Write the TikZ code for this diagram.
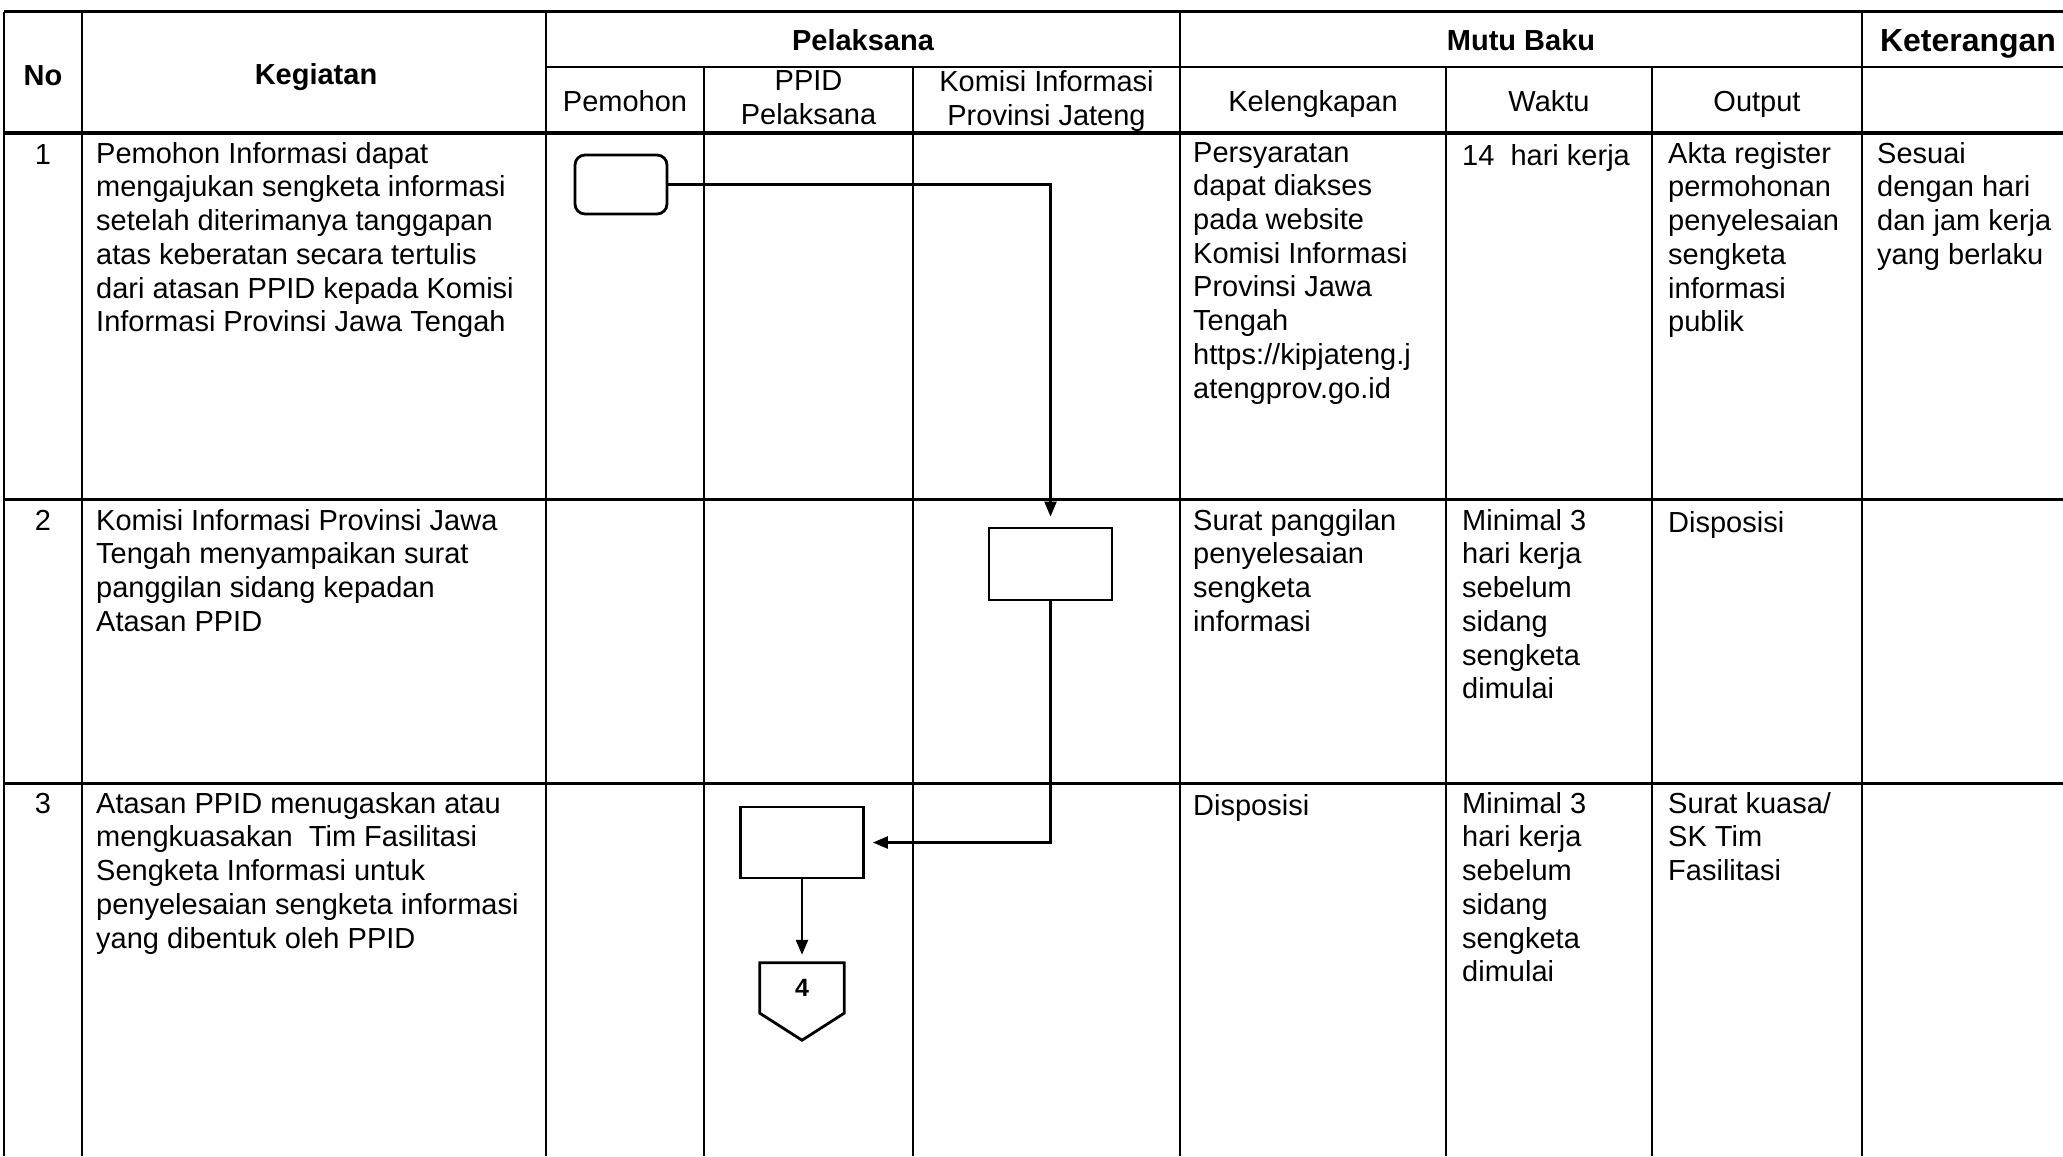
\documentclass[tikz,border=0pt]{standalone}
\usepackage{fontspec}
\setmainfont{Liberation Sans}
\usetikzlibrary{arrows.meta,calc}
\newcommand\cellfont{\fontsize{29}{33.7}\selectfont}
\newcommand\hdfont{\fontsize{29}{33.7}\selectfont\bfseries}
\newcommand\ketfont{\fontsize{32}{36.8}\selectfont\bfseries}
\begin{document}
\begin{tikzpicture}[x=1pt,y=-1pt,
  vline/.style={line width=2.4pt},
  hline/.style={line width=3pt},
  cell/.style={anchor=north west,inner sep=0pt,align=left,font=\cellfont,execute at begin node=\strut},
  num/.style={anchor=north,inner sep=0pt,font=\cellfont,execute at begin node=\strut},
  hd/.style={anchor=north,inner sep=0pt,align=center,font=\hdfont,execute at begin node=\strut},
  sub/.style={anchor=north,inner sep=0pt,align=center,font=\cellfont,execute at begin node=\strut},
  proc/.style={draw,line width=2.8pt,inner sep=0pt},
  flow/.style={line width=2.4pt,-{Triangle[length=15pt,width=12pt]}},
]
\fill[white] (0,0) rectangle (2063,1156);
\useasboundingbox (0,0) rectangle (2063,1156);

% table rules
\draw[hline] (4,12) -- (2063,12);
\draw[vline] (546,67) -- (2063,67);
\draw[line width=3.6pt] (4,133) -- (2063,133);
\draw[hline] (4,499) -- (2063,499);
\draw[hline] (4,783) -- (2063,783);
\foreach \x in {4,82,546,1180,1862} \draw[vline] (\x,12) -- (\x,1156);
\foreach \x in {704,913,1446,1652} \draw[vline] (\x,67) -- (\x,1156);

% headers
\node[hd] (hNo) at (43,61.4) {No};
\node[hd] (hKeg) at (316,60.4) {Kegiatan};
\node[hd] (hPel) at (863,26.4) {Pelaksana};
\node[hd] (hMutu) at (1521,26.4) {Mutu Baku};
\node[anchor=north,inner sep=0pt,font=\ketfont,execute at begin node=\strut] (hKet) at (1968,25.2) {Keterangan};
\node[sub] (hPem) at (625,87.4) {Pemohon};
\node[sub] (hPPID) at (808.5,70.4) {PPID\\Pelaksana};
\node[sub] (hKom) at (1046.5,70.4) {Komisi Informasi\\Provinsi Jateng};
\node[sub] (hKel) at (1313,87.4) {Kelengkapan};
\node[sub] (hWak) at (1549,87.4) {Waktu};
\node[sub] (hOut) at (1757,87.4) {Output};

% row 1
\node[num] (n1) at (43,140.5) {1};
\node[cell] (k1) at (96,142) {Pemohon Informasi dapat\\mengajukan sengketa informasi\\setelah diterimanya tanggapan\\atas keberatan secara tertulis\\dari atasan PPID kepada Komisi\\Informasi Provinsi Jawa Tengah};
\node[cell] (l1) at (1193,142) {Persyaratan\\dapat diakses\\pada website\\Komisi Informasi\\Provinsi Jawa\\Tengah\\https://kipjateng.j\\atengprov.go.id};
\node[cell] (w1) at (1462,142) {14~ hari kerja};
\node[cell] (o1) at (1668,142) {Akta register\\permohonan\\penyelesaian\\sengketa\\informasi\\publik};
\node[cell] (t1) at (1877,142) {Sesuai\\dengan hari\\dan jam kerja\\yang berlaku};

% row 2
\node[num] (n2) at (43,507) {2};
\node[cell] (k2) at (96,509) {Komisi Informasi Provinsi Jawa\\Tengah menyampaikan surat\\panggilan sidang kepadan\\Atasan PPID};
\node[cell] (l2) at (1193,509) {Surat panggilan\\penyelesaian\\sengketa\\informasi};
\node[cell] (w2) at (1462,509) {Minimal 3\\hari kerja\\sebelum\\sidang\\sengketa\\dimulai};
\node[cell] (o2) at (1668,509) {Disposisi};

% row 3
\node[num] (n3) at (43,790) {3};
\node[cell] (k3) at (96,792) {Atasan PPID menugaskan atau\\mengkuasakan~ Tim Fasilitasi\\Sengketa Informasi untuk\\penyelesaian sengketa informasi\\yang dibentuk oleh PPID};
\node[cell] (l3) at (1193,792) {Disposisi};
\node[cell] (w3) at (1462,792) {Minimal 3\\hari kerja\\sebelum\\sidang\\sengketa\\dimulai};
\node[cell] (o3) at (1668,792) {Surat kuasa/\\SK Tim\\Fasilitasi};

% flow shapes
\node[proc,rounded corners=10pt,minimum width=92pt,minimum height=59pt] (s1) at (621,184.5) {};
\node[proc,minimum width=123pt,minimum height=72pt] (s2) at (1050.5,564) {};
\node[proc,minimum width=123pt,minimum height=71pt] (s3) at (802,842.5) {};
\node[inner sep=0pt,minimum width=84pt,minimum height=50pt,font=\fontsize{25}{29}\selectfont\bfseries] (c4) at (802,988) {4};
\draw[line width=2.8pt,line join=miter] (c4.south west) -- (c4.north west) -- (c4.north east) -- (c4.south east) -- ($(c4.south)+(0,27)$) -- cycle;

% connectors
\draw[flow,shorten >=10pt] (s1.east) -| (s2.north);
\draw[flow,shorten >=8pt] (s2.south) |- (s3.east);
\draw[flow,shorten >=8pt] (s3.south) -- (c4.north);
\end{tikzpicture}
\end{document}
